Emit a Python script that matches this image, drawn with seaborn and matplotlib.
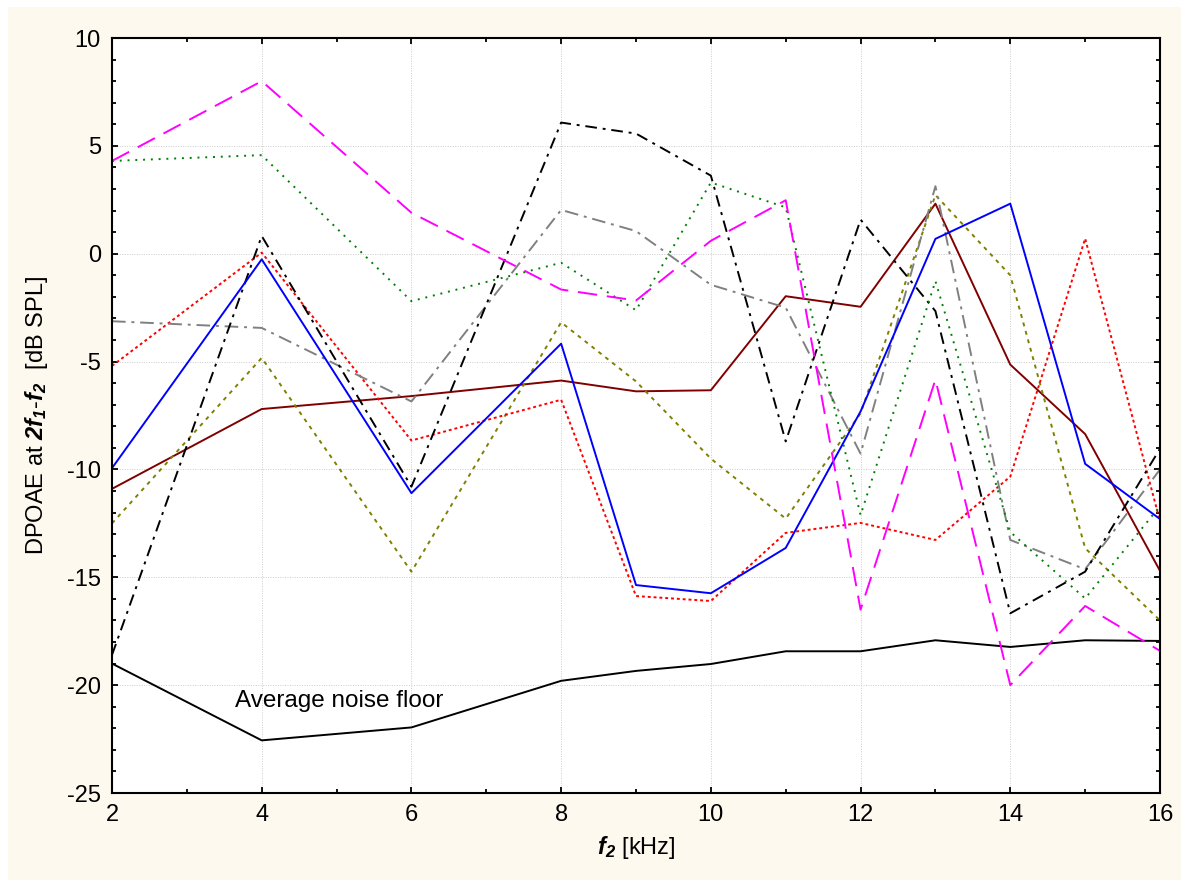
import numpy as np
import pandas as pd
import matplotlib
matplotlib.use("Agg")
import matplotlib.pyplot as plt
import seaborn as sns
from matplotlib.ticker import MultipleLocator
from matplotlib.patches import Rectangle

f2 = [2, 4, 6, 8, 9, 10, 11, 12, 13, 14, 15, 16]

magenta = [4.3, 8.0, 1.9, -1.66, -2.17, 0.6, 2.48, -16.5, -5.84, -20.0, -16.33, -18.41]
green = [4.3, 4.57, -2.2, -0.42, -2.62, 3.3, 2.15, -12.12, -1.27, -12.9, -15.98, -11.7]
black_dd = [-18.6, 0.82, -10.8, 6.08, 5.57, 3.62, -8.7, 1.58, -2.66, -16.67, -14.74, -9.04]
gray = [-3.13, -3.44, -6.85, 2.03, 1.05, -1.44, -2.5, -9.27, 3.13, -13.27, -14.63, -10.0]
red = [-5.2, 0.05, -8.66, -6.77, -15.87, -16.1, -12.94, -12.48, -13.27, -10.33, 0.7, -12.4]
blue = [-9.94, -0.26, -11.1, -4.17, -15.36, -15.74, -13.64, -7.31, 0.69, 2.32, -9.74, -12.3]
olive = [-12.5, -4.83, -14.74, -3.18, -5.92, -9.5, -12.28, -7.4, 2.72, -1.0, -13.65, -17.0]
darkred = [-10.9, -7.2, -6.6, -5.88, -6.38, -6.33, -1.97, -2.46, 2.32, -5.14, -8.36, -14.7]
noise = [-19.0, -22.56, -21.96, -19.8, -19.34, -19.02, -18.43, -18.43, -17.92, -18.23, -17.92, -17.95]

xticks = [2, 4, 6, 8, 10, 12, 14, 16]
yticks = [-25, -20, -15, -10, -5, 0, 5, 10]
noise_label = "Average noise floor"

sns.set_style("ticks")
plt.rcParams["font.family"] = ["Liberation Sans", "DejaVu Sans"]
plt.rcParams["axes.unicode_minus"] = False
plt.rcParams["text.color"] = "black"
plt.rcParams["axes.labelcolor"] = "black"
plt.rcParams["xtick.color"] = "black"
plt.rcParams["ytick.color"] = "black"
plt.rcParams["mathtext.fontset"] = "custom"
plt.rcParams["mathtext.rm"] = "Liberation Sans"
plt.rcParams["mathtext.it"] = "Liberation Sans:italic"
plt.rcParams["mathtext.bf"] = "Liberation Sans:bold"
plt.rcParams["mathtext.bfit"] = "Liberation Sans:italic:bold"

fig = plt.figure(figsize=(11.81, 8.8), dpi=100, facecolor="white")
fig.patches.append(Rectangle((8 / 1181, 0), 1 - 8 / 1181, 1 - 7 / 880,
                             transform=fig.transFigure, facecolor="#FEF9EF",
                             edgecolor="none", zorder=-10))
ax = fig.add_axes([112 / 1181, 1 - 793 / 880, (1160 - 112) / 1181, (793 - 38) / 880])
ax.set_facecolor("white")

series = [
    (noise, "black", "-"),
    (darkred, "#800000", "-"),
    (olive, "#808000", (0, (2, 2.5))),
    (red, "#FF0000", (0, (1.5, 1.5))),
    (gray, "#808080", (0, (7, 3, 1.5, 3))),
    (black_dd, "black", (0, (6, 3, 1.5, 3))),
    (green, "#008000", (0, (1, 3))),
    (blue, "#0000FF", "-"),
    (magenta, "#FF00FF", (0, (10, 5))),
]
for vals, col, ls in series:
    sns.lineplot(x=f2, y=vals, color=col, linestyle=ls, linewidth=1.4, ax=ax,
                 sort=False, errorbar=None)

ax.text(3.64, -20.75, noise_label, fontsize=17.5, va="center", ha="left", color="black")

ax.set_xlim(2, 16)
ax.set_ylim(-25, 10)
ax.set_xticks(xticks)
ax.set_yticks(yticks)
ax.xaxis.set_minor_locator(MultipleLocator(1))
ax.yaxis.set_minor_locator(MultipleLocator(1))
ax.tick_params(axis="both", which="both", direction="in", top=True, right=True,
               labelsize=17, width=1.3, colors="black")
ax.tick_params(which="major", length=4.5, pad=8)
ax.tick_params(which="minor", length=3)
ax.grid(True, which="major", color="#cccccc", linestyle=(0, (1, 1.5)), linewidth=0.7)
for s in ax.spines.values():
    s.set_visible(True)
    s.set_linewidth(1.5)
    s.set_color("black")

ax.set_xlabel(r"$\mathbfit{f}_{\mathbfit{2}}$ [kHz]", fontsize=17, labelpad=6)
ax.set_ylabel(r"DPOAE at $\mathbfit{2f}_{\mathbfit{1}}$$\mathbf{\text{-}}$$\mathbfit{f}_{\mathbfit{2}}$  [dB SPL]",
              fontsize=17, labelpad=12)

fig.savefig("out.png", dpi=100, facecolor=fig.get_facecolor())
